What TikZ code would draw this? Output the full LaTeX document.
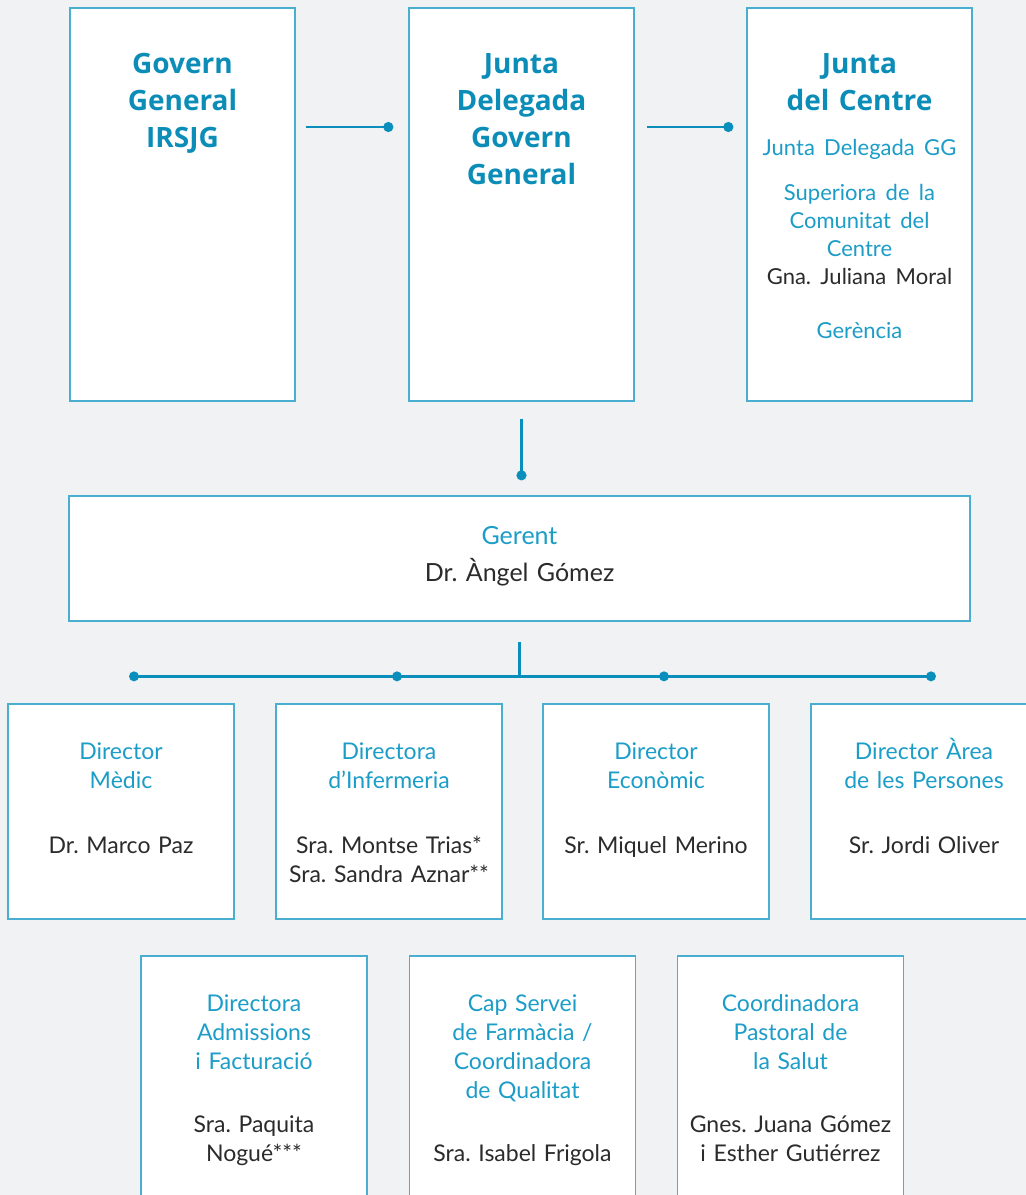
\documentclass[tikz,border=0pt]{standalone}
\usepackage{fontspec}
\setmainfont{Lato}
\newfontfamily\headfont{Open Sans}
\frenchspacing
\usetikzlibrary{arrows.meta,positioning}
\definecolor{Line}{HTML}{0A8FBD}
\definecolor{Edge}{HTML}{4AAED0}
\definecolor{Sky}{HTML}{1C9DC8}
\definecolor{Deep}{HTML}{0B8DB8}
\definecolor{Ink}{HTML}{2B2B2B}
\definecolor{Paper}{HTML}{F1F2F4}

\begin{document}
\begin{tikzpicture}[x=1pt,y=-1pt,>={Circle[length=10pt]},
    card/.style={draw=Edge,fill=white,line width=1.3pt,minimum width=226pt,inner sep=0pt},
    tall/.style={card,minimum width=225pt,minimum height=393pt},
    mid/.style={card,minimum height=215pt},
    low/.style={card,minimum height=260pt},
    head/.style={text width=225pt,align=center,inner sep=0pt,text=Deep,font=\headfont\fontsize{28}{37}\selectfont\bfseries},
    role/.style={text width=226pt,align=center,inner sep=0pt,text=Sky,font=\fontsize{23}{29}\selectfont},
    link/.style={draw=Line,line width=2.6pt}]
  \useasboundingbox (0,0) rectangle (1026,1195);
  \clip (0,0) rectangle (1026,1195);
  \fill[Paper] (0,0) rectangle (1026,1195);

  \node[tall] (govern) at (182.5,204.5) {};
  \node[tall] (deleg) at (521.5,204.5) {};
  \node[tall] (centre) at (859.5,204.5) {};
  \node[head,below=46pt of govern.north] {Govern\\General\\IRSJG};
  \node[head,below=46pt of deleg.north] {Junta\\Delegada\\Govern\\General};
  \node[head,below=46pt of centre.north] {Junta\\del Centre\par
    \vskip17pt\normalfont\fontsize{22}{28}\selectfont\color{Sky}Junta Delegada GG\par
    \vskip17pt Superiora de la\\Comunitat del\\Centre\\\color{Ink}Gna. Juliana Moral\par
    \vskip17pt\color{Sky}Gerència};

  \node[card,minimum width=901pt,minimum height=125pt] (gerent) at (519.5,558.5) {};
  \node[role,below=31pt of gerent.north,text width=500pt,font=\fontsize{25}{37}\selectfont] {Gerent\\\color{Ink}Dr. Àngel Gómez};

  \node[mid] (medic) at (121,811.5) {};
  \node[mid] (infer) at (389,811.5) {};
  \node[mid] (econ) at (656,811.5) {};
  \node[mid] (pers) at (924,811.5) {};
  \node[role,below=39pt of medic.north] {Director\\Mèdic\\[36pt]\color{Ink}Dr. Marco Paz};
  \node[role,below=39pt of infer.north] {Directora\\d’Infermeria\\[36pt]\color{Ink}Sra. Montse Trias*\\Sra. Sandra Aznar**};
  \node[role,below=39pt of econ.north] {Director\\Econòmic\\[36pt]\color{Ink}Sr. Miquel Merino};
  \node[role,below=35pt of pers.north] {Director Àrea\\de les Persones\\[36pt]\color{Ink}Sr. Jordi Oliver};

  \node[low] (admis) at (254,1086) {};
  \node[low] (farma) at (522.5,1086) {};
  \node[low] (pastor) at (790.5,1086) {};
  \node[role,below=39pt of admis.north] {Directora\\Admissions\\i Facturació\\[34pt]\color{Ink}Sra. Paquita\\Nogué***};
  \node[role,below=39pt of farma.north] {Cap Servei\\de Farmàcia /\\Coordinadora\\de Qualitat\\[34pt]\color{Ink}Sra. Isabel Frigola};
  \node[role,below=39pt of pastor.north] {Coordinadora\\Pastoral de\\la Salut\\[34pt]\color{Ink}Gnes. Juana Gómez\\i Esther Gutiérrez};

  \draw[link,->,shorten <=10pt,shorten >=15pt] ([yshift=77.5pt]govern.east) -- ([yshift=77.5pt]deleg.west);
  \draw[link,->,shorten <=12pt,shorten >=13pt] ([yshift=77.5pt]deleg.east) -- ([yshift=77.5pt]centre.west);
  \draw[link,->,shorten <=17pt,shorten >=15pt] (deleg.south) -- (deleg.south |- gerent.north);
  \foreach \b/\d/\s in {medic/d1/13,infer/d2/8,econ/d3/8,pers/d4/7} \coordinate (\d) at ([xshift=\s pt,yshift=27pt]\b.north);
  \draw[link] (d1) -- (d4);
  \draw[link,shorten <=20pt] (gerent.south) -- (gerent.south |- d1);
  \foreach \d in {d1,d2,d3,d4} \fill[Line] (\d) circle (5pt);
\end{tikzpicture}
\end{document}
